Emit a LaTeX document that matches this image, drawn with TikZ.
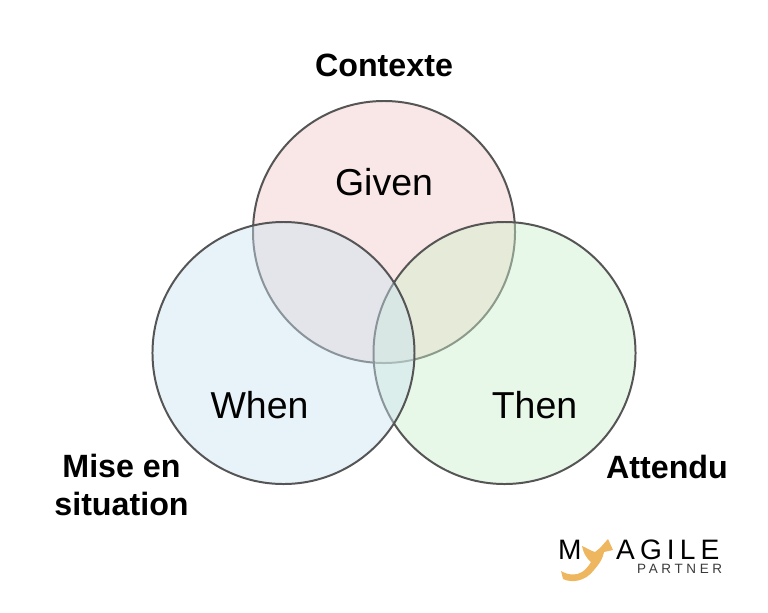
\documentclass[tikz,border=0pt]{standalone}
\usepackage{fontspec}
\setmainfont{Liberation Sans}
\usetikzlibrary{positioning}
\definecolor{givenfill}{HTML}{F2C8C8}
\definecolor{whenfill}{HTML}{CCE4F2}
\definecolor{thenfill}{HTML}{CDEFCB}
\definecolor{ringline}{HTML}{555555}
\definecolor{logogold}{HTML}{EDB65F}
\definecolor{logogrey}{HTML}{3A3A3A}

\begin{document}
\begin{tikzpicture}[x=0.03cm,y=-0.03cm,node distance=2cm,
    ring/.style={circle,draw=ringline,line width=1.7pt,inner sep=0pt,minimum size=7.86cm,fill opacity=.45,draw opacity=1},
    word/.style={font=\fontsize{32}{36}\selectfont,inner sep=0pt},
    caption/.style={font=\fontsize{27.5}{33}\selectfont\bfseries,align=center,inner sep=0pt}]
  \useasboundingbox (0,0) rectangle (768,612);

  \node[ring,fill=givenfill]  (given) at (384,232)  {};
  \node[ring,fill=thenfill]   (then) at (504.5,353) {};
  \node[ring,fill=whenfill]   (when) [left of=then,node distance=6.63cm] {};

  \node[word] (giventext) at (384,182) {Given};
  \node[word] (whentext) at (259.5,405) {When};
  \node[word] (thentext) at (534.5,405) {Then};

  \node[caption] (givencap) at (384,65) {Contexte};
  \node[caption] (whencap) at (121.5,485) {Mise en\\situation};
  \node[caption] (thencap) at (667,467) {Attendu};

  % logo
  \fill[logogold] (561,571) -- (563,579) .. controls (571,583) and (585,582) .. (594,570)
    .. controls (600,563) and (603,558) .. (604,552)
    -- (613,550) -- (608,539) -- (600,548) -- (595,552)
    .. controls (591,551) and (587,548) .. (582,546)
    .. controls (583,552) and (586,558) .. (591,562)
    .. controls (588,567) and (585,570) .. (582,572)
    .. controls (576,576) and (568,575) .. (561,571);
  \node[inner sep=0pt,anchor=base west,text=black] (logom) at (558,559)
    {\fontsize{24}{28}\selectfont M};
  \node[inner sep=0pt,anchor=base west,text=black] (logoagile) at (616,559)
    {\fontsize{24}{28}\addfontfeature{LetterSpace=18}\selectfont AGILE};
  \node[inner sep=0pt,anchor=base west,text=logogrey] (logopartner) at (637,573)
    {\fontsize{11.5}{14}\addfontfeature{LetterSpace=27}\selectfont PARTNER};
\end{tikzpicture}
\end{document}
